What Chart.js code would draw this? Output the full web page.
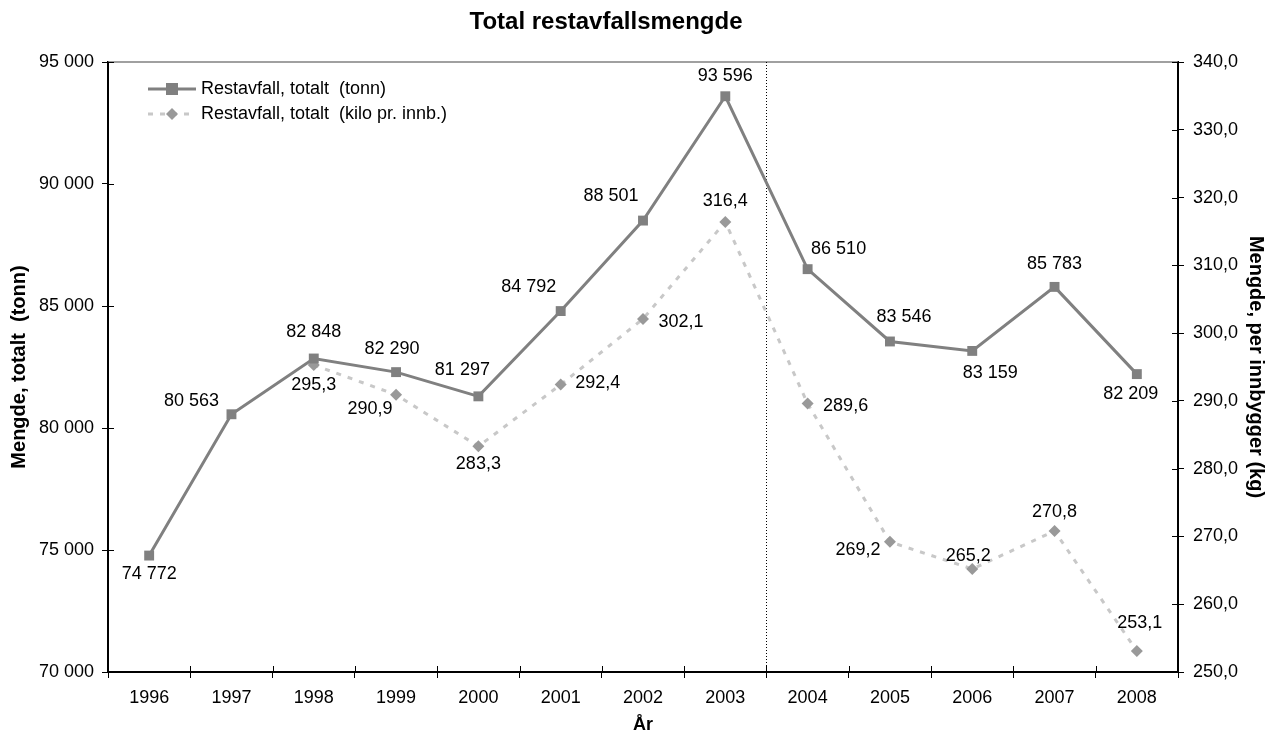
<!DOCTYPE html>
<html>
<head>
<meta charset="utf-8">
<script src="https://cdn.jsdelivr.net/npm/chart.js@4/dist/chart.umd.min.js"></script>
<style>
  html, body { margin: 0; padding: 0; background: #fff; }
  #wrap { width: 1268px; height: 737px; }
</style>
</head>
<body>
<div id="wrap"><canvas id="chart" width="1268" height="737"></canvas></div>
<script>
// -----------------------------
// Data
// -----------------------------
const years = ["1996", "1997", "1998", "1999", "2000", "2001", "2002", "2003", "2004", "2005", "2006", "2007", "2008"];
const tonn = [74772, 80563, 82848, 82290, 81297, 84792, 88501, 93596, 86510, 83546, 83159, 85783, 82209];
const kiloPerInnb = [null, null, 295.3, 290.9, 283.3, 292.4, 302.1, 316.4, 289.6, 269.2, 265.2, 270.8, 253.1];

const chartTitle = "Total restavfallsmengde";
const seriesNames = ["Restavfall, totalt  (tonn)", "Restavfall, totalt  (kilo pr. innb.)"];

// label placement (dx, dy from the point)
const tonnLabelPos = [[0, 18], [-40, -13], [0, -26], [-4, -23], [-16, -26], [-32, -24], [-32, -25], [0, -20], [31, -20], [14, -24], [18, 22], [0, -23], [-6, 20]];
const kiloLabelPos = [null, null, [0, 20], [-26, 14], [0, 18], [37, -2], [38, 3], [0, -21], [38, 2], [-32, 8], [-4, -13], [0, -19], [3, -28]];

const FONT = "'Liberation Sans', Arial, sans-serif";
const fmtTonn = (v) => Math.round(v).toString().replace(/\B(?=(\d{3})+(?!\d))/g, " ");
const fmtKilo = (v) => v.toFixed(1).replace(".", ",");

// -----------------------------
// Plugins
// -----------------------------
const extrasPlugin = {
  id: "extras",
  beforeDatasetsDraw(chart) {
    const { ctx, chartArea: a, scales } = chart;
    ctx.save();
    // title
    ctx.fillStyle = "#000";
    ctx.font = "bold 24px " + FONT;
    ctx.textAlign = "center";
    ctx.textBaseline = "middle";
    ctx.fillText(chartTitle, 606, 22);
    // grey top border
    ctx.strokeStyle = "#808080";
    ctx.lineWidth = 1.5;
    ctx.beginPath();
    ctx.moveTo(a.left, a.top);
    ctx.lineTo(a.right, a.top);
    ctx.stroke();
    // dotted divider between 2003 and 2004
    const xd = (scales.x.getPixelForValue(7) + scales.x.getPixelForValue(8)) / 2;
    ctx.strokeStyle = "#000";
    ctx.lineWidth = 1;
    ctx.setLineDash([1, 2]);
    ctx.beginPath();
    ctx.moveTo(Math.round(xd) + 0.5, a.top);
    ctx.lineTo(Math.round(xd) + 0.5, a.bottom);
    ctx.stroke();
    ctx.restore();
  },
  afterDatasetsDraw(chart) {
    const { ctx, chartArea: a, scales } = chart;
    ctx.save();
    // inner halves of tick marks
    ctx.strokeStyle = "#000";
    ctx.lineWidth = 1;
    ctx.beginPath();
    scales.y.ticks.forEach((t) => {
      const y = Math.round(scales.y.getPixelForValue(t.value)) + 0.5;
      ctx.moveTo(a.left, y);
      ctx.lineTo(a.left + 6, y);
    });
    scales.y1.ticks.forEach((t) => {
      const y = Math.round(scales.y1.getPixelForValue(t.value)) + 0.5;
      ctx.moveTo(a.right - 6, y);
      ctx.lineTo(a.right, y);
    });
    for (let i = 0; i <= years.length; i++) {
      const x = Math.round(a.left + (i * (a.right - a.left)) / years.length) + 0.5;
      ctx.moveTo(x, a.bottom - 6);
      ctx.lineTo(x, a.bottom);
    }
    ctx.stroke();

    // data labels
    ctx.fillStyle = "#000";
    ctx.font = "18px " + FONT;
    ctx.textAlign = "center";
    ctx.textBaseline = "middle";
    const m0 = chart.getDatasetMeta(0);
    m0.data.forEach((p, i) => {
      const o = tonnLabelPos[i];
      ctx.fillText(fmtTonn(tonn[i]), p.x + o[0], p.y + o[1]);
    });
    const m1 = chart.getDatasetMeta(1);
    m1.data.forEach((p, i) => {
      if (kiloPerInnb[i] == null) return;
      const o = kiloLabelPos[i];
      ctx.fillText(fmtKilo(kiloPerInnb[i]), p.x + o[0], p.y + o[1]);
    });

    // legend
    const lx = a.left + 40;
    const ly = [a.top + 27, a.top + 52];
    ctx.textAlign = "left";
    ctx.lineWidth = 3;
    ctx.strokeStyle = "#808080";
    ctx.beginPath();
    ctx.moveTo(lx, ly[0]);
    ctx.lineTo(lx + 48, ly[0]);
    ctx.stroke();
    ctx.fillStyle = "#808080";
    ctx.fillRect(lx + 18, ly[0] - 6, 12, 12);
    ctx.strokeStyle = "#c8c8c8";
    ctx.setLineDash([5, 7]);
    ctx.beginPath();
    ctx.moveTo(lx, ly[1]);
    ctx.lineTo(lx + 48, ly[1]);
    ctx.stroke();
    ctx.setLineDash([]);
    ctx.fillStyle = "#999999";
    ctx.beginPath();
    ctx.moveTo(lx + 24, ly[1] - 6);
    ctx.lineTo(lx + 30, ly[1]);
    ctx.lineTo(lx + 24, ly[1] + 6);
    ctx.lineTo(lx + 18, ly[1]);
    ctx.closePath();
    ctx.fill();
    ctx.fillStyle = "#000";
    ctx.fillText(seriesNames[0], lx + 53, ly[0]);
    ctx.fillText(seriesNames[1], lx + 53, ly[1]);
    ctx.restore();
  },
};

// -----------------------------
// Chart
// -----------------------------
const ctx = document.getElementById("chart").getContext("2d");
new Chart(ctx, {
  type: "line",
  data: {
    labels: years,
    datasets: [
      {
        label: seriesNames[0],
        data: tonn,
        yAxisID: "y",
        borderColor: "#808080",
        borderWidth: 3,
        backgroundColor: "#808080",
        pointStyle: "rect",
        pointRadius: 7,
        pointBorderWidth: 0,
        tension: 0,
        order: 1,
      },
      {
        label: seriesNames[1],
        data: kiloPerInnb,
        yAxisID: "y1",
        borderColor: "#c8c8c8",
        borderWidth: 3,
        borderDash: [5, 7],
        backgroundColor: "#999999",
        pointStyle: "rectRot",
        pointRadius: 6,
        pointBorderWidth: 0,
        tension: 0,
        order: 2,
      },
    ],
  },
  options: {
    responsive: false,
    animation: false,
    layout: { padding: { top: 62, right: 0, left: 0, bottom: 0 } },
    plugins: {
      legend: { display: false },
      tooltip: { enabled: false },
      title: { display: false },
    },
    scales: {
      x: {
        offset: true,
        grid: { offset: true, drawOnChartArea: false, color: "#000", tickLength: 6 },
        border: { color: "#000", width: 2 },
        ticks: { color: "#000", font: { family: FONT, size: 18 }, padding: 9, maxRotation: 0 },
        title: { display: true, text: "År", color: "#000", font: { family: FONT, size: 18, weight: "bold" }, padding: { top: 0, bottom: 1 } },
        afterFit: (s) => { s.height = 65; },
      },
      y: {
        position: "left",
        min: 70000,
        max: 95000,
        grid: { drawOnChartArea: false, color: "#000", tickLength: 6 },
        border: { color: "#000", width: 2 },
        ticks: { stepSize: 5000, color: "#000", font: { family: FONT, size: 18 }, padding: 8, callback: (v) => fmtTonn(v) },
        title: { display: true, text: "Mengde, totalt  (tonn)", color: "#000", font: { family: FONT, size: 20, weight: "bold" }, padding: { top: 7, bottom: 0 } },
        afterFit: (s) => { s.width = 108; },
      },
      y1: {
        position: "right",
        min: 250,
        max: 340,
        grid: { drawOnChartArea: false, color: "#000", tickLength: 6 },
        border: { color: "#000", width: 2 },
        ticks: { stepSize: 10, color: "#000", font: { family: FONT, size: 18 }, padding: 9, callback: (v) => fmtKilo(v) },
        title: { display: true, text: "Mengde, per innbygger (kg)", color: "#000", font: { family: FONT, size: 20, weight: "bold" }, padding: { top: 0, bottom: 4 } },
        afterFit: (s) => { s.width = 90; },
      },
    },
  },
  plugins: [extrasPlugin],
});
</script>
</body>
</html>
